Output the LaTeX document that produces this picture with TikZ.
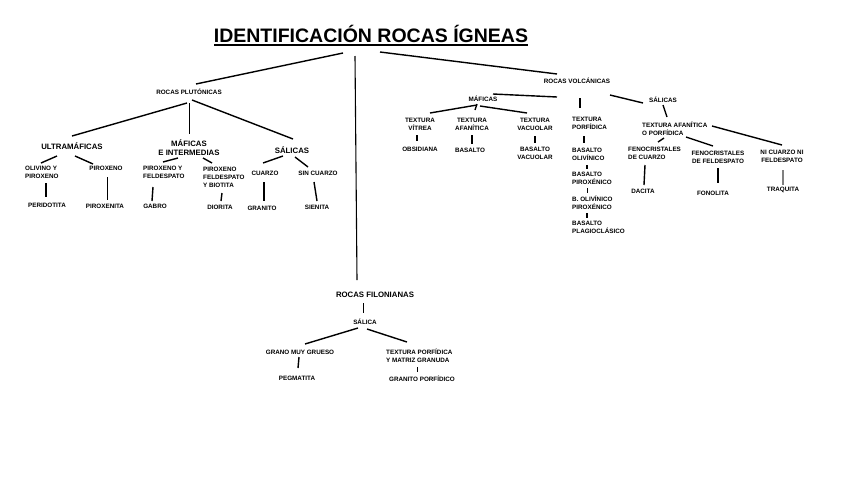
\documentclass[tikz,border=0pt]{standalone}
\usepackage{fontspec}
\setmainfont{Liberation Sans}
\begin{document}
\begin{tikzpicture}[x=1pt,y=-1pt,
  sm/.style={font=\fontsize{6.3}{8}\selectfont\bfseries, inner sep=0, align=center},
  sml/.style={font=\fontsize{6.3}{8}\selectfont\bfseries, inner sep=0, align=left, anchor=west},
  md/.style={font=\fontsize{7.8}{9}\selectfont\bfseries, inner sep=0, align=center},
  ln/.style={line width=1.4pt},
  tn/.style={line width=0.9pt}]
\useasboundingbox[fill=white] (0,0) rectangle (848,485);
% title
\node[font=\fontsize{19.5}{22}\selectfont\bfseries, inner sep=0] (title) at (371,34) {IDENTIFICACIÓN ROCAS ÍGNEAS};
\coordinate (ul1) at (214,45); \coordinate (ul2) at (528,45);
\draw[line width=1.6pt] (ul1) -- (ul2);
% main groups
\node[sm] (plut) at (189,92) {ROCAS PLUTÓNICAS};
\node[sm] (volc) at (577,81) {ROCAS VOLCÁNICAS};
\node[md] (filo) at (375,295) {ROCAS FILONIANAS};
% plutonicas subtree
\node[md] (ultra) at (72,146) {ULTRAMÁFICAS};
\node[md] (mafint) at (189,148) {MÁFICAS\\E INTERMEDIAS};
\node[md] (salp) at (292,150) {SÁLICAS};
\node[sml] (oliv) at (25,172) {OLIVINO Y\\PIROXENO};
\node[sm] (pirox) at (106,168) {PIROXENO};
\node[sm] (perid) at (47,205) {PERIDOTITA};
\node[sm] (piroxenita) at (105,206) {PIROXENITA};
\node[sml] (pyf) at (143,172.5) {PIROXENO Y\\FELDESPATO};
\node[sml] (pfb) at (203,177) {PIROXENO\\FELDESPATO\\Y BIOTITA};
\node[sm] (gabro) at (155,206) {GABRO};
\node[sm] (diorita) at (220,207) {DIORITA};
\node[sm] (cuarzo) at (265,173) {CUARZO};
\node[sm] (sincuarzo) at (318,173) {SIN CUARZO};
\node[sm] (granito) at (262,208) {GRANITO};
\node[sm] (sienita) at (317,207) {SIENITA};
% volcanicas subtree
\node[sm] (mafv) at (483,99) {MÁFICAS};
\node[sm] (salv) at (663,100) {SÁLICAS};
\node[sm] (tvit) at (420,124.5) {TEXTURA\\VÍTREA};
\node[sm] (tafa) at (472,124.5) {TEXTURA\\AFANÍTICA};
\node[sm] (tvac) at (535,124.5) {TEXTURA\\VACUOLAR};
\node[sml] (tpor) at (572,123.5) {TEXTURA\\PORFÍDICA};
\node[sm] (obs) at (420,149) {OBSIDIANA};
\node[sm] (bas) at (470,150) {BASALTO};
\node[sm] (basvac) at (535,153) {BASALTO\\VACUOLAR};
\node[sml] (bol) at (572,154) {BASALTO\\OLIVÍNICO};
\node[sml] (bpir) at (572,178.5) {BASALTO\\PIROXÉNICO};
\node[sml] (bop) at (572,202.5) {B. OLIVÍNICO\\PIROXÉNICO};
\node[sml] (bpla) at (572,227.5) {BASALTO\\PLAGIOCLÁSICO};
\node[sml] (tafp) at (642,128.5) {TEXTURA AFANÍTICA\\O PORFÍDICA};
\node[sml] (fcz) at (628,153) {FENOCRISTALES\\DE CUARZO};
\node[sm] (ffd) at (718,157) {FENOCRISTALES\\DE FELDESPATO};
\node[sm] (ninf) at (782,156.5) {NI CUARZO NI\\FELDESPATO};
\node[sm] (dacita) at (643,191) {DACITA};
\node[sm] (fonolita) at (713,193) {FONOLITA};
\node[sm] (traquita) at (783,190) {TRAQUITA};
% filonianas subtree
\node[sm] (salf) at (365,322) {SÁLICA};
\node[sm] (gmg) at (300,352) {GRANO MUY GRUESO};
\node[sml] (tpmg) at (386,356) {TEXTURA PORFÍDICA\\Y MATRIZ GRANUDA};
\node[sm] (pegm) at (297,378) {PEGMATITA};
\node[sm] (grpor) at (422,379) {GRANITO PORFÍDICO};
% connector end points
\coordinate (t1) at (343,53); \coordinate (p0) at (196,84);
\coordinate (t2) at (355,56); \coordinate (f0) at (357,280);
\coordinate (t3) at (380,52); \coordinate (v0) at (557,74);
% title connectors
\draw[ln] (t1) -- (p0);
\draw[line width=1.1pt] (t2) -- (f0);
\draw[ln] (t3) -- (v0);
% plutonicas
\coordinate (pa) at (187,103); \coordinate (ua) at (72,136);
\coordinate (pb) at (189,103); \coordinate (ma) at (189,134);
\coordinate (pc) at (192,100); \coordinate (sa) at (293,139);
\draw[ln] (pa) -- (ua);
\draw[tn] (pb) -- (ma);
\draw[ln] (pc) -- (sa);
\coordinate (u1) at (57,156); \coordinate (o1) at (41,163);
\coordinate (u2) at (75,156); \coordinate (x1) at (93,164);
\draw[ln] (u1) -- (o1);
\draw[ln] (u2) -- (x1);
\coordinate (o2) at (46,183); \coordinate (pe) at (46,197);
\coordinate (x2) at (107,177); \coordinate (pn) at (107,200);
\draw[ln] (o2) -- (pe);
\draw[tn] (x2) -- (pn);
\coordinate (m1) at (178,158); \coordinate (y1) at (163,162);
\coordinate (m2) at (203,158); \coordinate (b1) at (212,163);
\draw[ln] (m1) -- (y1);
\draw[ln] (m2) -- (b1);
\coordinate (y2) at (153,187); \coordinate (ga) at (152,201);
\coordinate (b2) at (222,193); \coordinate (di) at (221,201);
\draw[ln] (y2) -- (ga);
\draw[ln] (b2) -- (di);
\coordinate (s1) at (283,156); \coordinate (c1) at (263,163);
\coordinate (s2) at (295,157); \coordinate (n1) at (308,167);
\draw[ln] (s1) -- (c1);
\draw[ln] (s2) -- (n1);
\coordinate (c2) at (264,182); \coordinate (gr) at (264,201);
\coordinate (n2) at (314,182); \coordinate (si) at (317,201);
\draw[ln] (c2) -- (gr);
\draw[ln] (n2) -- (si);
% volcanicas
\coordinate (va) at (557,97); \coordinate (mv) at (493,94);
\coordinate (vb) at (580,98); \coordinate (tp) at (580,108);
\coordinate (vc) at (610,95); \coordinate (sv) at (643,103);
\draw[ln] (va) -- (mv);
\draw[ln] (vb) -- (tp);
\draw[ln] (vc) -- (sv);
\coordinate (mv1) at (477,105); \coordinate (tv1) at (430,113);
\coordinate (mv2) at (477,104); \coordinate (ta1) at (475,110);
\coordinate (mv3) at (480,106); \coordinate (tc1) at (527,113);
\draw[ln] (mv1) -- (tv1);
\draw[ln] (mv2) -- (ta1);
\draw[ln] (mv3) -- (tc1);
\coordinate (tv2) at (417,135); \coordinate (ob) at (417,141);
\coordinate (ta2) at (472,135); \coordinate (ba) at (472,144);
\coordinate (tc2) at (535,136); \coordinate (bv) at (535,143);
\coordinate (tp2) at (584,136); \coordinate (bo) at (584,143);
\coordinate (bo2) at (587,165); \coordinate (bp) at (587,169);
\coordinate (bp2) at (587,188); \coordinate (bq) at (587,193);
\coordinate (bq2) at (587,213); \coordinate (bl) at (587,218);
\draw[ln] (tv2) -- (ob);
\draw[ln] (ta2) -- (ba);
\draw[ln] (tc2) -- (bv);
\draw[ln] (tp2) -- (bo);
\draw[ln] (bo2) -- (bp);
\draw[tn] (bp2) -- (bq);
\draw[ln] (bq2) -- (bl);
\coordinate (sv1) at (663,105); \coordinate (tf) at (667,117);
\draw[ln] (sv1) -- (tf);
\coordinate (tf1) at (712,126); \coordinate (ni1) at (782,145);
\coordinate (tf2) at (686,137); \coordinate (fd1) at (713,146);
\coordinate (tf3) at (664,138); \coordinate (fc1) at (658,142);
\draw[ln] (tf1) -- (ni1);
\draw[ln] (tf2) -- (fd1);
\draw[ln] (tf3) -- (fc1);
\coordinate (fc2) at (645,165); \coordinate (da) at (644,185);
\coordinate (fd2) at (718,168); \coordinate (fo) at (718,183);
\coordinate (ni2) at (783,170); \coordinate (tr) at (783,185);
\draw[ln] (fc2) -- (da);
\draw[ln] (fd2) -- (fo);
\draw[line width=1.2pt, gray] (ni2) -- (tr);
% filonianas
\coordinate (fi1) at (363,303); \coordinate (sf) at (363,313);
\draw[tn] (fi1) -- (sf);
\coordinate (sf1) at (358,328); \coordinate (gm1) at (305,344);
\coordinate (sf2) at (367,329); \coordinate (tm1) at (407,342);
\draw[ln] (sf1) -- (gm1);
\draw[ln] (sf2) -- (tm1);
\coordinate (gm2) at (299,357); \coordinate (pg) at (298,368);
\coordinate (tm2) at (417,367); \coordinate (gp) at (417,372);
\draw[ln] (gm2) -- (pg);
\draw[tn] (tm2) -- (gp);
\end{tikzpicture}
\end{document}
